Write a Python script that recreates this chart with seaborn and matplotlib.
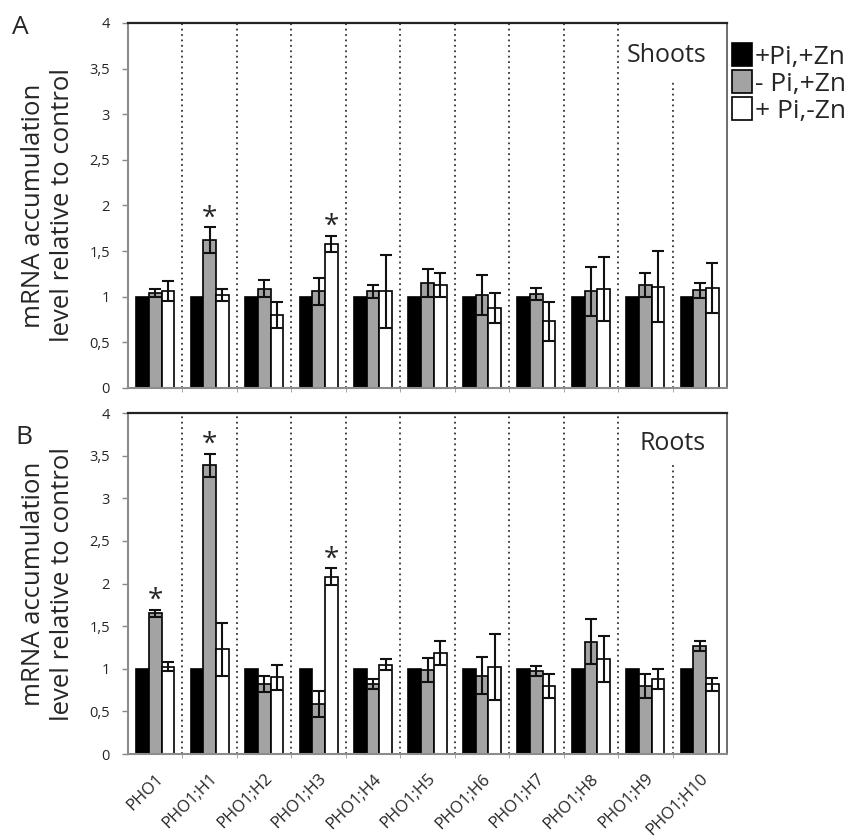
import numpy as np
import pandas as pd
import matplotlib
matplotlib.use("Agg")
import matplotlib.pyplot as plt
from matplotlib.ticker import FuncFormatter, FixedLocator
import seaborn as sns

# ---------------------------------------------------------------------------
# data (mean and error per condition, per gene)
# ---------------------------------------------------------------------------
genes = ["PHO1", "PHO1;H1", "PHO1;H2", "PHO1;H3", "PHO1;H4", "PHO1;H5",
         "PHO1;H6", "PHO1;H7", "PHO1;H8", "PHO1;H9", "PHO1;H10"]
conditions = ["+Pi,+Zn", "- Pi,+Zn", "+ Pi,-Zn"]

# Shoots (panel A)
shoot_ctrl = [1, 1, 1, 1, 1, 1, 1, 1, 1, 1, 1]
shoot_pi = [1.04, 1.62, 1.09, 1.06, 1.06, 1.15, 1.02, 1.03, 1.06, 1.13, 1.07]
shoot_pi_err = [0.04, 0.14, 0.09, 0.15, 0.07, 0.15, 0.22, 0.065, 0.27, 0.13, 0.08]
shoot_zn = [1.06, 1.02, 0.80, 1.58, 1.06, 1.13, 0.88, 0.73, 1.08, 1.11, 1.095]
shoot_zn_err = [0.11, 0.07, 0.14, 0.09, 0.40, 0.13, 0.165, 0.215, 0.35, 0.39, 0.27]
shoot_stars = [("PHO1;H1", "- Pi,+Zn"), ("PHO1;H3", "+ Pi,-Zn")]

# Roots (panel B)
root_ctrl = [1, 1, 1, 1, 1, 1, 1, 1, 1, 1, 1]
root_pi = [1.65, 3.385, 0.82, 0.59, 0.82, 0.99, 0.92, 0.975, 1.32, 0.80, 1.27]
root_pi_err = [0.04, 0.14, 0.09, 0.15, 0.055, 0.14, 0.22, 0.06, 0.26, 0.14, 0.06]
root_zn = [1.025, 1.23, 0.90, 2.08, 1.05, 1.19, 1.02, 0.80, 1.11, 0.88, 0.82]
root_zn_err = [0.05, 0.31, 0.15, 0.10, 0.06, 0.14, 0.39, 0.14, 0.27, 0.12, 0.075]
root_stars = [("PHO1", "- Pi,+Zn"), ("PHO1;H1", "- Pi,+Zn"), ("PHO1;H3", "+ Pi,-Zn")]

bar_colors = ["black", "#a3a3a3", "white"]
FONT = ["Open Sans", "DejaVu Sans"]

sns.set_style("white")
plt.rcParams["font.family"] = FONT


def make_frame(ctrl, pi, pi_err, zn, zn_err):
    rows = []
    for i, g in enumerate(genes):
        rows.append({"gene": g, "condition": conditions[0], "value": ctrl[i], "err": 0.0})
        rows.append({"gene": g, "condition": conditions[1], "value": pi[i], "err": pi_err[i]})
        rows.append({"gene": g, "condition": conditions[2], "value": zn[i], "err": zn_err[i]})
    return pd.DataFrame(rows)


def comma_fmt(v, pos):
    return f"{v:g}".replace(".", ",")


def draw_panel(ax, df, stars, title, last_div_top, show_xlabels):
    sns.barplot(data=df, x="gene", y="value", hue="condition", order=genes,
                hue_order=conditions, palette=bar_colors, width=0.7,
                edgecolor="black", linewidth=1.2, errorbar=None, ax=ax,
                legend=show_xlabels is False, zorder=2)

    # error bars and asterisks placed on the drawn bars
    bars = [p for p in ax.patches if p.get_height() > 0 and p.get_width() < 0.5]
    for k, cond in enumerate(conditions):
        sub = df[df["condition"] == cond].set_index("gene").loc[genes]
        cond_bars = bars[k * len(genes):(k + 1) * len(genes)]
        for bar, (g, row) in zip(cond_bars, sub.iterrows()):
            xc = bar.get_x() + bar.get_width() / 2
            if row["err"] > 0:
                ax.errorbar(xc, row["value"], yerr=row["err"], fmt="none",
                            ecolor="#111111", elinewidth=1.5, capsize=4,
                            capthick=1.5, zorder=3)
            if (g, cond) in stars:
                ax.text(xc, row["value"] + row["err"] - 0.06, "*", ha="center",
                        va="bottom", fontsize=20, zorder=4)

    # dotted dividers between genes
    for j in range(len(genes) - 1):
        top = last_div_top if j == len(genes) - 2 else 4
        ax.plot([j + 0.5, j + 0.5], [0, top], linestyle=(0, (1, 2.0)),
                color="#333333", linewidth=1.3, zorder=1)

    ax.set_xlim(-0.5, len(genes) - 0.5)
    ax.set_ylim(0, 4)
    ax.set_yticks(np.arange(0, 4.01, 0.5))
    ax.yaxis.set_major_formatter(FuncFormatter(comma_fmt))
    ax.tick_params(axis="y", direction="out", length=4, width=1, color="#888888",
                   labelsize=10.5, pad=9, left=True)
    ax.xaxis.set_minor_locator(FixedLocator(np.arange(0.5, len(genes) - 0.5, 1)))
    ax.tick_params(axis="x", which="minor", direction="out", length=3,
                   color="#999999", bottom=True)
    ax.tick_params(axis="x", which="major", length=0)

    if show_xlabels:
        ax.set_xticks(range(len(genes)))
        ax.set_xticklabels(genes, rotation=45, ha="right", va="top",
                           rotation_mode="anchor", fontsize=12)
        ax.tick_params(axis="x", which="major", pad=12)
    else:
        ax.set_xticklabels([])

    ax.set_xlabel("")
    ax.set_ylabel("mRNA accumulation\nlevel relative to control", fontsize=18.5,
                  labelpad=10, linespacing=1.25)
    ax.text(0.965, 0.91, title, transform=ax.transAxes, ha="right",
            va="center", fontsize=18)

    for side in ["left", "bottom"]:
        ax.spines[side].set_color("#8c8c8c")
        ax.spines[side].set_linewidth(1.5)
    ax.spines["top"].set_color("#222222")
    ax.spines["top"].set_linewidth(1.6)
    ax.spines["right"].set_color("#555555")
    ax.spines["right"].set_linewidth(1.2)


fig = plt.figure(figsize=(8.49, 8.38), dpi=100)
ax_top = fig.add_axes([0.1508, 0.537, 0.7055, 0.4356])
ax_bot = fig.add_axes([0.1508, 0.1002, 0.7055, 0.4069])

shoots = make_frame(shoot_ctrl, shoot_pi, shoot_pi_err, shoot_zn, shoot_zn_err)
roots = make_frame(root_ctrl, root_pi, root_pi_err, root_zn, root_zn_err)

draw_panel(ax_top, shoots, shoot_stars, "Shoots", 3.35, False)
draw_panel(ax_bot, roots, root_stars, "Roots", 3.39, True)

leg = ax_top.legend(loc="upper left", bbox_to_anchor=(1.008, 0.944), frameon=False,
                    fontsize=19, handlelength=0.75, handleheight=0.95,
                    handletextpad=0.12, labelspacing=0.02, borderaxespad=0.0,
                    borderpad=0.0)
for h in leg.legend_handles:
    h.set_edgecolor("black")
    h.set_linewidth(1.2)

fig.text(0.014, 0.982, "A", fontsize=19, va="top", ha="left")
fig.text(0.018, 0.493, "B", fontsize=19, va="top", ha="left")

fig.savefig("out.png", dpi=100)
